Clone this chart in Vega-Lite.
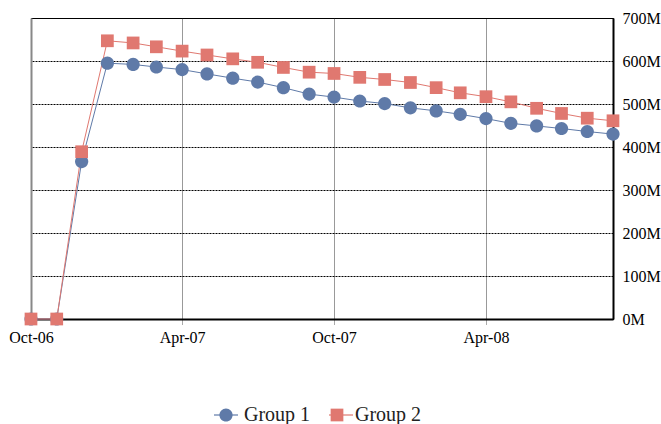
{
  "$schema": "https://vega.github.io/schema/vega-lite/v6.json",
  "width": 582,
  "height": 301,
  "autosize": "none",
  "padding": {"left": 31, "top": 18, "right": 48, "bottom": 105},
  "background": "white",
  "config": {
    "view": {"stroke": "black", "strokeWidth": 1},
    "font": "Liberation Serif",
    "axis": {"labelFont": "Liberation Serif", "labelFontSize": 16, "labelColor": "black", "title": null},
    "legend": {"labelFont": "Liberation Serif"}
  },
  "data": {
    "values": [
      {"date": "2006-10-01", "group": "Group 1", "v": 0},
      {"date": "2006-11-01", "group": "Group 1", "v": 0},
      {"date": "2006-12-01", "group": "Group 1", "v": 366},
      {"date": "2007-01-01", "group": "Group 1", "v": 595},
      {"date": "2007-02-01", "group": "Group 1", "v": 592},
      {"date": "2007-03-01", "group": "Group 1", "v": 586},
      {"date": "2007-04-01", "group": "Group 1", "v": 580},
      {"date": "2007-05-01", "group": "Group 1", "v": 570},
      {"date": "2007-06-01", "group": "Group 1", "v": 560},
      {"date": "2007-07-01", "group": "Group 1", "v": 551},
      {"date": "2007-08-01", "group": "Group 1", "v": 538},
      {"date": "2007-09-01", "group": "Group 1", "v": 523},
      {"date": "2007-10-01", "group": "Group 1", "v": 516},
      {"date": "2007-11-01", "group": "Group 1", "v": 507},
      {"date": "2007-12-01", "group": "Group 1", "v": 501},
      {"date": "2008-01-01", "group": "Group 1", "v": 491},
      {"date": "2008-02-01", "group": "Group 1", "v": 484},
      {"date": "2008-03-01", "group": "Group 1", "v": 476},
      {"date": "2008-04-01", "group": "Group 1", "v": 466},
      {"date": "2008-05-01", "group": "Group 1", "v": 455},
      {"date": "2008-06-01", "group": "Group 1", "v": 449},
      {"date": "2008-07-01", "group": "Group 1", "v": 443},
      {"date": "2008-08-01", "group": "Group 1", "v": 436},
      {"date": "2008-09-01", "group": "Group 1", "v": 430},
      {"date": "2006-10-01", "group": "Group 2", "v": 0},
      {"date": "2006-11-01", "group": "Group 2", "v": 0},
      {"date": "2006-12-01", "group": "Group 2", "v": 389},
      {"date": "2007-01-01", "group": "Group 2", "v": 647},
      {"date": "2007-02-01", "group": "Group 2", "v": 642},
      {"date": "2007-03-01", "group": "Group 2", "v": 633},
      {"date": "2007-04-01", "group": "Group 2", "v": 623},
      {"date": "2007-05-01", "group": "Group 2", "v": 614},
      {"date": "2007-06-01", "group": "Group 2", "v": 605},
      {"date": "2007-07-01", "group": "Group 2", "v": 597},
      {"date": "2007-08-01", "group": "Group 2", "v": 585},
      {"date": "2007-09-01", "group": "Group 2", "v": 574},
      {"date": "2007-10-01", "group": "Group 2", "v": 571},
      {"date": "2007-11-01", "group": "Group 2", "v": 562},
      {"date": "2007-12-01", "group": "Group 2", "v": 557},
      {"date": "2008-01-01", "group": "Group 2", "v": 550},
      {"date": "2008-02-01", "group": "Group 2", "v": 538},
      {"date": "2008-03-01", "group": "Group 2", "v": 526},
      {"date": "2008-04-01", "group": "Group 2", "v": 517},
      {"date": "2008-05-01", "group": "Group 2", "v": 505},
      {"date": "2008-06-01", "group": "Group 2", "v": 490},
      {"date": "2008-07-01", "group": "Group 2", "v": 478},
      {"date": "2008-08-01", "group": "Group 2", "v": 467},
      {"date": "2008-09-01", "group": "Group 2", "v": 461}
    ]
  },
  "resolve": {
    "axis": {"x": "independent", "y": "independent"}
  },
  "layer": [
    {
      "mark": {"type": "line", "strokeWidth": 1},
      "encoding": {
        "x": {
          "field": "date", "type": "temporal",
          "scale": {"type": "utc", "domain": [{"year": 2006, "month": "oct", "date": 1, "utc": true}, {"year": 2008, "month": "sep", "date": 1, "utc": true}]},
          "axis": {
            "orient": "bottom",
            "values": [
              {"year": 2006, "month": "oct", "date": 1, "utc": true},
              {"year": 2007, "month": "apr", "date": 1, "utc": true},
              {"year": 2007, "month": "oct", "date": 1, "utc": true},
              {"year": 2008, "month": "apr", "date": 1, "utc": true}
            ],
            "labelExpr": "utcFormat(datum.value, '%b-%y')",
            "labelFlush": false,
            "grid": false,
            "domainColor": "black", "domainWidth": 2,
            "ticks": true, "tickSize": 6, "tickColor": "#555", "tickDash": [1, 1], "tickWidth": 1,
            "labelPadding": 4
          }
        },
        "y": {
          "field": "v", "type": "quantitative",
          "scale": {"domain": [0, 700], "nice": false},
          "axis": {
            "orient": "right",
            "values": [0, 100, 200, 300, 400, 500, 600, 700],
            "labelExpr": "datum.value + 'M'",
            "grid": true, "gridColor": "black", "gridDash": [2, 1], "gridWidth": 1.2, "gridOpacity": 1,
            "domainColor": "black", "domainWidth": 2,
            "ticks": false, "labelPadding": 9
          }
        },
        "stroke": {
          "field": "group", "type": "nominal",
          "scale": {"range": ["#5f7aa8", "#e07870"]},
          "legend": {
            "title": null,
            "orient": "none",
            "direction": "horizontal",
            "legendX": 182,
            "legendY": 384,
            "symbolType": "stroke",
            "symbolSize": 576,
            "symbolStrokeWidth": 1.2,
            "labelFontSize": 20,
            "labelExpr": "''",
            "labelOffset": 5,
            "columnPadding": 82
          }
        }
      }
    },
    {
      "mark": {"type": "point", "filled": true, "opacity": 1, "size": 576},
      "encoding": {
        "x": {
          "field": "date", "type": "temporal",
          "axis": {
            "orient": "top",
            "values": [
              {"year": 2007, "month": "apr", "date": 1, "utc": true},
              {"year": 2007, "month": "oct", "date": 1, "utc": true},
              {"year": 2008, "month": "apr", "date": 1, "utc": true}
            ],
            "labels": false, "ticks": false, "domain": false,
            "grid": true, "gridColor": "#333", "gridDash": [1, 1], "gridWidth": 1, "gridOpacity": 1
          }
        },
        "y": {
          "field": "v", "type": "quantitative",
          "axis": {"orient": "left", "labels": false, "ticks": false, "grid": false, "domainColor": "#888", "domainWidth": 2}
        },
        "color": {
          "field": "group", "type": "nominal",
          "scale": {"domain": ["Group 1", "Group 2"], "range": ["#5f7aa8", "#e07870"]},
          "legend": {
            "title": null,
            "orient": "none",
            "direction": "horizontal",
            "legendX": 182,
            "legendY": 384,
            "symbolSize": 576,
            "symbolOpacity": 1,
            "labelFontSize": 20,
            "labelColor": "#222",
            "labelOffset": 5,
            "columnPadding": 13
          }
        },
        "shape": {
          "field": "group", "type": "nominal",
          "scale": {
            "domain": ["Group 1", "Group 2"],
            "range": [
              "M0.55,0A0.55,0.55 0 1,1 -0.55,0A0.55,0.55 0 1,1 0.55,0Z",
              "M-0.53,-0.53H0.53V0.53H-0.53Z"
            ]
          },
          "legend": {
            "title": null,
            "orient": "none",
            "direction": "horizontal",
            "legendX": 182,
            "legendY": 384,
            "symbolSize": 576,
            "symbolOpacity": 1,
            "labelFontSize": 20,
            "labelColor": "#222",
            "labelOffset": 5,
            "columnPadding": 13
          }
        }
      }
    }
  ]
}
